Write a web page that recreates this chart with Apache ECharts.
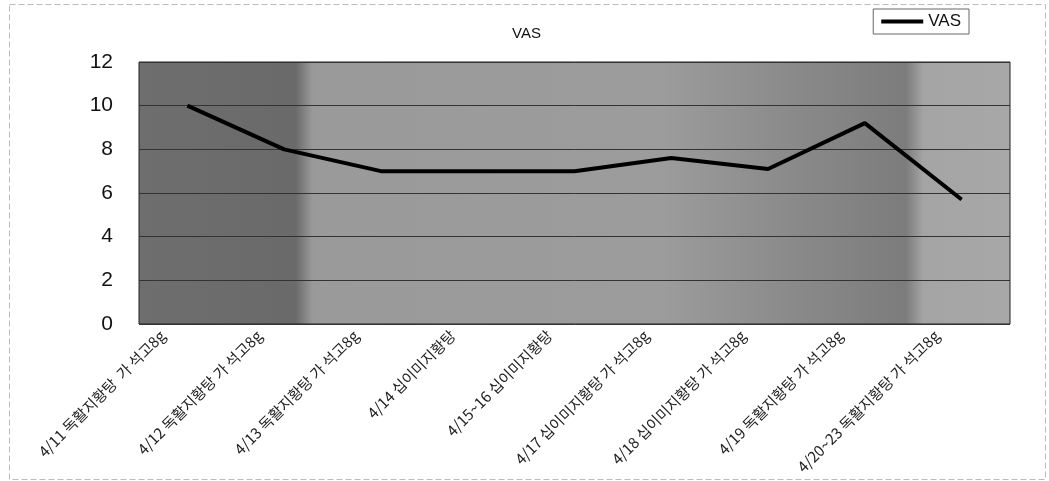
<!DOCTYPE html>
<html lang="ko">
<head>
    <meta charset="UTF-8">
    <title>VAS</title>
    <script src="https://cdn.jsdelivr.net/npm/echarts@6/dist/echarts.min.js"></script>
    <style>
        html, body { margin: 0; padding: 0; background: #fff; }
        #main { width: 1049px; height: 481px; }
    </style>
</head>
<body>
<div id="main"></div>
<script>
    // 날짜별 처방 (x축)
    var days = [
        '4/11 독활지황탕  가 석고8g',
        '4/12 독활지황탕 가 석고8g',
        '4/13 독활지황탕 가 석고8g',
        '4/14 십이미지황탕',
        '4/15~16 십이미지황탕',
        '4/17 십이미지황탕 가 석고8g',
        '4/18 십이미지황탕 가 석고8g',
        '4/19 독활지황탕 가 석고8g',
        '4/20~23 독활지황탕 가 석고8g'
    ];
    // VAS 값
    var vas = [10, 8, 7, 7, 7, 7.6, 7.1, 9.2, 5.7];
    var yTicks = [0, 2, 4, 6, 8, 10, 12];

    var fontKo = '"Noto Sans CJK KR", "Liberation Sans", sans-serif';
    var chart = echarts.init(document.getElementById('main'));

    chart.setOption({
        animation: false,
        backgroundColor: '#fff',
        title: {
            text: 'VAS',
            left: 507,
            top: 21,
            textStyle: { fontFamily: '"Liberation Sans", Arial', fontSize: 15, fontWeight: 'normal', color: '#111' }
        },
        legend: {
            data: ['VAS'],
            right: 80,
            top: 9,
            padding: [4, 8, 4, 8],
            borderColor: '#666',
            borderWidth: 1,
            itemWidth: 42,
            itemHeight: 4,
            itemGap: 4,
            icon: 'rect',
            textStyle: { fontFamily: '"Liberation Sans", Arial', fontSize: 17, color: '#111' }
        },
        grid: [{
            left: 139, right: 39, top: 62, bottom: 157, show: true,
            backgroundColor: new echarts.graphic.LinearGradient(0, 0, 1, 0, [
                { offset: 0, color: '#6e6e6e' },
                { offset: 0.18, color: '#6a6a6a' },
                { offset: 0.2, color: '#9a9a9a' },
                { offset: 0.6, color: '#9c9c9c' },
                { offset: 0.75, color: '#8a8a8a' },
                { offset: 0.88, color: '#7c7c7c' },
                { offset: 0.9, color: '#a4a4a4' },
                { offset: 1, color: '#a8a8a8' }
            ]),
            borderColor: '#222', borderWidth: 1
        }, {
            // 라벨만 왼쪽으로 조금 옮겨 그리는 보조 grid
            left: 114, right: 64, top: 62, bottom: 157, show: false
        }],
        xAxis: [{
            type: 'category',
            data: days,
            boundaryGap: true,
            axisLine: { show: false },
            axisTick: { show: false },
            axisLabel: { show: false }
        }, {
            type: 'category',
            gridIndex: 1,
            data: days,
            boundaryGap: true,
            axisLine: { show: false },
            axisTick: { show: false },
            axisLabel: {
                interval: 0,
                rotate: 45,
                margin: 9,
                fontFamily: fontKo,
                fontSize: 15,
                color: '#222'
            }
        }],
        yAxis: [{
            type: 'value',
            min: yTicks[0],
            max: yTicks[yTicks.length - 1],
            interval: 2,
            axisLine: { show: false },
            axisTick: { show: false },
            axisLabel: {
                margin: 26,
                fontFamily: '"Liberation Sans", Arial',
                fontSize: 21,
                color: '#111'
            },
            splitLine: { lineStyle: { color: '#333', width: 1 } }
        }, {
            type: 'value',
            gridIndex: 1,
            min: yTicks[0],
            max: yTicks[yTicks.length - 1],
            show: false
        }],
        series: [{
            name: 'VAS',
            type: 'line',
            data: vas,
            symbol: 'none',
            lineStyle: { color: '#000', width: 4 },
            itemStyle: { color: '#000' }
        }],
        graphic: [{
            type: 'rect',
            left: 7, top: 2,
            shape: { width: 1036, height: 475 },
            style: { fill: 'none', stroke: '#bbb', lineWidth: 1, lineDash: [6, 3] },
            silent: true
        }]
    });
</script>
</body>
</html>
